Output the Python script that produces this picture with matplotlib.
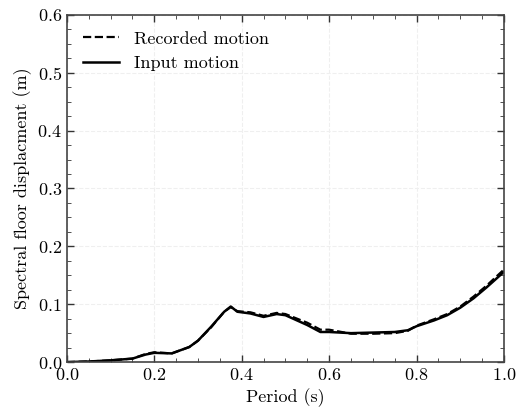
import matplotlib
matplotlib.use("Agg")
import matplotlib.pyplot as plt
import numpy as np
from matplotlib.ticker import MultipleLocator

plt.rcParams["font.family"] = "cmr10"
plt.rcParams["font.size"] = 13
plt.rcParams["mathtext.fontset"] = "cm"
plt.rcParams["axes.formatter.use_mathtext"] = True

period = [0.0, 0.05, 0.10, 0.15, 0.18, 0.20, 0.24, 0.28, 0.30, 0.33, 0.36, 0.375,
          0.39, 0.42, 0.45, 0.48, 0.50, 0.55, 0.58, 0.60, 0.65, 0.70, 0.75, 0.78,
          0.80, 0.84, 0.87, 0.90, 0.93, 0.96, 1.00]
input_motion = [0.0, 0.001, 0.003, 0.006, 0.013, 0.016, 0.015, 0.026, 0.037, 0.061,
                0.087, 0.096, 0.087, 0.084, 0.078, 0.083, 0.081, 0.064, 0.052, 0.052,
                0.050, 0.051, 0.052, 0.055, 0.062, 0.072, 0.081, 0.094, 0.110, 0.129, 0.156]
recorded_motion = [0.0, 0.001, 0.003, 0.006, 0.014, 0.017, 0.015, 0.026, 0.037, 0.060,
                   0.087, 0.095, 0.088, 0.086, 0.080, 0.085, 0.083, 0.068, 0.056, 0.056,
                   0.049, 0.049, 0.050, 0.054, 0.063, 0.074, 0.083, 0.096, 0.113, 0.132, 0.160]

fig = plt.figure(figsize=(5.18, 4.11), dpi=100)
ax = fig.add_axes([0.129, 0.119, 0.844, 0.845])

ax.plot(period, recorded_motion, "k--", lw=1.6, label="Recorded motion")
ax.plot(period, input_motion, "k-", lw=1.8, label="Input motion")

ax.set_xlim(0, 1.0)
ax.set_ylim(0, 0.6)
ax.xaxis.set_major_locator(MultipleLocator(0.2))
ax.xaxis.set_minor_locator(MultipleLocator(0.05))
ax.yaxis.set_major_locator(MultipleLocator(0.1))
ax.yaxis.set_minor_locator(MultipleLocator(0.025))
ax.tick_params(which="both", direction="in", top=True, right=True, color="#333333")
ax.tick_params(which="major", length=5, width=1)
ax.tick_params(which="minor", length=3)
for s in ax.spines.values():
    s.set_color("#444444")
    s.set_linewidth(1.2)
ax.grid(True, which="major", color="#efefef", ls="--", lw=0.8)
ax.set_axisbelow(True)

ax.set_xlabel("Period (s)")
ax.set_ylabel("Spectral floor displacment (m)")
ax.legend(loc="upper left", frameon=False, handlelength=2.0)

fig.savefig("out.png", dpi=100)
